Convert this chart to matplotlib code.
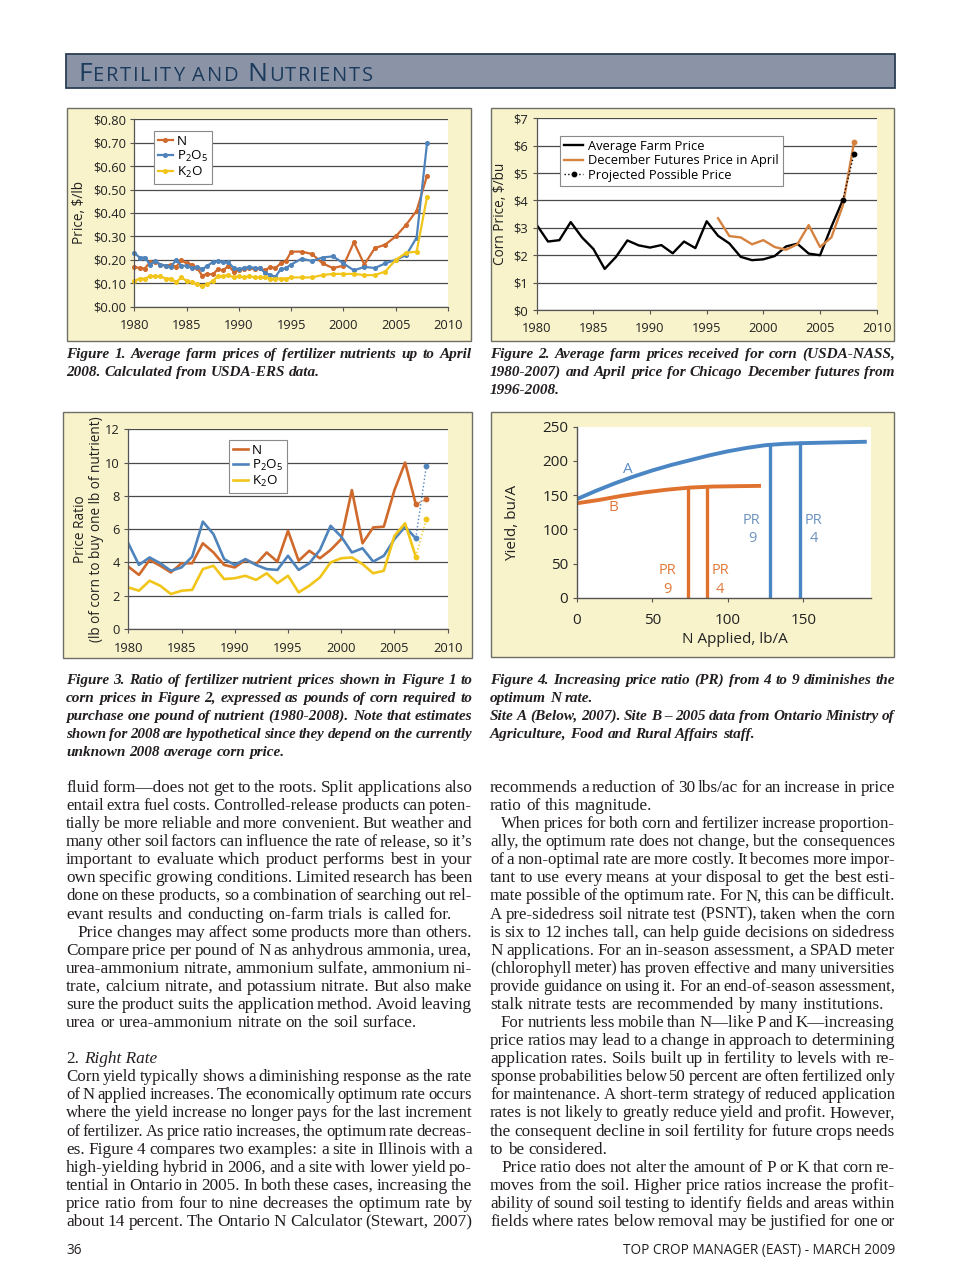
import numpy as np
import matplotlib
matplotlib.use('Agg')
import matplotlib.pyplot as plt
from matplotlib.font_manager import FontProperties
from matplotlib.patches import Rectangle
from matplotlib.lines import Line2D

plt.rcParams['font.family'] = ['Open Sans', 'DejaVu Sans']
plt.rcParams['mathtext.fontset'] = 'custom'
plt.rcParams['mathtext.rm'] = 'Open Sans'
plt.rcParams['mathtext.it'] = 'Open Sans:italic'
plt.rcParams['mathtext.bf'] = 'Open Sans:bold'

# ---------------- data ----------------
fert_years = [1980, 1980.5, 1981, 1981.5, 1982, 1982.5, 1983, 1983.5, 1984, 1984.5,
              1985, 1985.5, 1986, 1986.5, 1987, 1987.5, 1988, 1988.5, 1989, 1989.5,
              1990, 1990.5, 1991, 1991.5, 1992, 1992.5, 1993, 1993.5, 1994, 1994.5,
              1995, 1996, 1997, 1998, 1999, 2000, 2001, 2002, 2003, 2004, 2005, 2006, 2007, 2008]
price_N = [.17, .165, .163, .19, .19, .18, .175, .18, .17, .198,
           .185, .18, .165, .133, .14, .138, .16, .155, .175, .15,
           .157, .16, .165, .16, .165, .155, .17, .165, .185, .195,
           .235, .235, .225, .185, .165, .175, .275, .18, .25, .265, .30, .35, .41, .56]
price_P = [.23, .21, .21, .18, .195, .18, .175, .17, .20, .175,
           .175, .165, .17, .16, .175, .19, .195, .19, .19, .165,
           .16, .165, .17, .165, .165, .145, .135, .128, .16, .165,
           .18, .205, .195, .21, .215, .185, .155, .17, .165, .185, .20, .22, .295, .70]
price_K = [.11, .12, .12, .13, .13, .13, .12, .12, .105, .125,
           .11, .105, .095, .09, .095, .11, .13, .13, .135, .125,
           .13, .125, .13, .125, .125, .125, .12, .12, .12, .12,
           .125, .125, .125, .135, .14, .14, .14, .135, .135, .15, .20, .23, .235, .47]

corn_years = list(range(1980, 2008))
farm_price = [3.11, 2.50, 2.55, 3.21, 2.65, 2.23, 1.50, 1.94, 2.54, 2.36, 2.28, 2.37, 2.07, 2.50,
              2.26, 3.24, 2.71, 2.43, 1.94, 1.82, 1.85, 1.97, 2.32, 2.42, 2.06, 2.00, 3.04, 4.00]
futures_years = list(range(1996, 2009))
futures_price = [3.35, 2.70, 2.65, 2.40, 2.55, 2.30, 2.20, 2.40, 3.10, 2.30, 2.65, 3.80, 6.12]
projected_years = [2007, 2008]
projected_price = [4.00, 5.70]

ratio_years = list(range(1980, 2008))
ratio_N = [3.75, 3.25, 4.15, 3.8, 3.4, 3.95, 3.95, 5.15, 4.6, 3.85, 3.7, 4.15, 3.9, 4.6,
           4.05, 5.9, 4.1, 4.7, 4.25, 4.75, 5.4, 8.35, 5.15, 6.1, 6.15, 8.35, 10.0, 7.5]
ratio_P = [5.15, 3.85, 4.3, 3.95, 3.5, 3.7, 4.35, 6.45, 5.7, 4.2, 3.85, 4.2, 3.85, 3.6,
           3.55, 4.4, 3.55, 3.95, 4.75, 6.2, 5.55, 4.6, 4.85, 4.05, 4.4, 5.4, 6.15, 5.45]
ratio_K = [2.5, 2.3, 2.9, 2.6, 2.1, 2.3, 2.35, 3.6, 3.8, 3.0, 3.05, 3.2, 2.95, 3.35,
           2.75, 3.2, 2.2, 2.6, 3.1, 4.0, 4.25, 4.3, 3.9, 3.35, 3.5, 5.6, 6.35, 4.35]
ratio_year_2008 = 2008
ratio_2008 = {'N': 7.8, 'P': 9.8, 'K': 6.6}

siteA_N = [0, 12.5, 25, 37.5, 50, 62.5, 75, 87.5, 100, 112.5, 125, 137.5, 150, 170, 192]
siteA_yield = [144, 156, 167, 177, 186, 194, 201, 208, 214, 219, 223, 225, 226, 227, 228]
siteB_N = [0, 15, 30, 45, 60, 75, 90, 105, 122]
siteB_yield = [138, 143, 149, 154, 158, 161, 162.5, 163, 163.5]
siteA_opt = {'9': 128, '4': 148}
siteB_opt = {'9': 74, '4': 86}

# ---------------- page ----------------
W, H, DPI = 960, 1284, 100
fig = plt.figure(figsize=(W / DPI, H / DPI), dpi=DPI)
fig.patch.set_facecolor('white')
page = fig.add_axes([0, 0, 1, 1])
page.set_xlim(0, W)
page.set_ylim(H, 0)
page.axis('off')
page.set_zorder(0)
renderer = fig.canvas.get_renderer()

ORANGE = '#cf692c'
BLUE = '#4f83bb'
YELLOW = '#f1c519'
CREAM = '#f8f3cb'
EDGE = '#6f6f66'
TEXT = '#231f20'


def ax_at(x0, y0, x1, y1):
    ax = fig.add_axes([x0 / W, 1 - y1 / H, (x1 - x0) / W, (y1 - y0) / H])
    ax.set_zorder(2)
    return ax


def tw(s, fp):
    w, h, d = renderer.get_text_width_height_descent(s, fp, ismath=False)
    return w


def put_line(x0, x1, yb, s, family='Liberation Serif', size=11.0, style='normal',
             weight='normal', justify=True, indent=0, color=TEXT):
    words = s.split()
    sz = size
    while True:
        fp = FontProperties(family=family, size=sz, style=style, weight=weight)
        ws = [tw(w, fp) for w in words]
        sp = tw('n n', fp) - tw('nn', fp)
        natural = sum(ws) + sp * 0.6 * (len(words) - 1)
        if natural <= (x1 - x0 - indent) or sz <= size - 2.0:
            break
        sz -= 0.2
    if justify and len(words) > 1:
        gap = (x1 - x0 - indent - sum(ws)) / (len(words) - 1)
    else:
        gap = sp
    x = x0 + indent
    for w, wd in zip(words, ws):
        page.text(x, yb, w, fontproperties=fp, ha='left', va='baseline', color=color)
        x += wd + gap


def panel(x0, y0, x1, y1):
    page.add_patch(Rectangle((x0, y0), x1 - x0, y1 - y0, facecolor=CREAM,
                             edgecolor=EDGE, lw=1.0, zorder=1))


# header bar
page.add_patch(Rectangle((66, 54), 829, 34, facecolor='#8a94a6', edgecolor='#2b3e54', lw=1.3, zorder=1))
title_parts = [('F', 19), ('ERTILITY', 14.5), (' ', 14.5), ('AND', 14.5), (' ', 14.5),
               ('N', 19), ('UTRIENTS', 14.5)]
chars = []
for s, sz in title_parts:
    for c in s:
        chars.append((c, sz))
fps = [FontProperties(family='Open Sans', size=sz, weight='medium') for c, sz in chars]
widths = [tw(c, fp) if c != ' ' else tw('n n', fp) - tw('nn', fp) for (c, sz), fp in zip(chars, fps)]
track = (373 - 78 - sum(widths)) / (len(chars) - 1)
x = 78
for (c, sz), fp, wd in zip(chars, fps, widths):
    if c != ' ':
        page.text(x, 81, c, fontproperties=fp, ha='left', va='baseline', color='#1c3a5c', zorder=3)
    x += wd + track

# panels
panel(67, 108, 471, 341)
panel(491, 108, 894, 341)
panel(63, 412, 472, 658)
panel(491, 412, 894, 657)

TICKFS = 9.3


def line_axes(ax, ymax, yticks, ylabels):
    ax.set_facecolor('white')
    ax.set_xlim(1980, 2010)
    ax.set_ylim(0, ymax)
    ax.set_xticks([1980, 1985, 1990, 1995, 2000, 2005, 2010])
    ax.set_yticks(yticks)
    ax.set_yticklabels(ylabels)
    for s in ['top', 'right']:
        ax.spines[s].set_visible(False)
    for s in ['left', 'bottom']:
        ax.spines[s].set_color('#555555')
        ax.spines[s].set_linewidth(0.9)
    ax.grid(axis='y', color='#4a4a4a', lw=0.9)
    ax.set_axisbelow(True)
    ax.tick_params(direction='out', length=3, width=0.8, colors='#555555',
                   labelcolor='#222222', labelsize=TICKFS)
    ax.tick_params(axis='y', pad=3)
    ax.tick_params(axis='x', pad=6)


# ---- Figure 1 ----
ax1 = ax_at(134.3, 119.3, 448.0, 306.7)
yt1 = [0.0, 0.1, 0.2, 0.3, 0.4, 0.5, 0.6, 0.7, 0.8]
line_axes(ax1, 0.8, yt1, ['\\$%.2f' % v for v in yt1])
ax1.plot(fert_years, price_N, color=ORANGE, lw=1.6, marker='o', ms=2.6, label='N', clip_on=False)
ax1.plot(fert_years, price_P, color=BLUE, lw=1.6, marker='o', ms=2.6,
         label=r'P$_\mathregular{2}$O$_\mathregular{5}$', clip_on=False)
ax1.plot(fert_years, price_K, color=YELLOW, lw=1.6, marker='o', ms=2.6,
         label=r'K$_\mathregular{2}$O', clip_on=False)
ax1.set_ylabel('Price, $/lb', fontsize=9.8, color='#222222')
ax1.yaxis.set_label_coords(-0.152, 0.5)
lg1 = ax1.legend(loc='upper left', bbox_to_anchor=(0.063, 0.9376), borderaxespad=0,
                 fontsize=9.6, frameon=True, fancybox=False, framealpha=1, edgecolor='#8a8a8a',
                 handlelength=1.1, handletextpad=0.3, labelspacing=0.05, borderpad=0.3)
lg1.get_frame().set_linewidth(0.8)

# ---- Figure 2 ----
ax2 = ax_at(536.7, 118.3, 876.7, 310.0)
yt2 = list(range(0, 8))
line_axes(ax2, 7, yt2, ['\\$%d' % v for v in yt2])
ax2.plot(corn_years, farm_price, color='black', lw=1.7, label='Average Farm Price')
ax2.plot(futures_years, futures_price, color='#d6823f', lw=1.7, label='December Futures Price in April')
ax2.plot(futures_years[-1:], futures_price[-1:], color='#d6823f', lw=0, marker='o', ms=3.2)
ax2.plot(projected_years, projected_price, color='black', lw=1.0, ls=':', marker='o', ms=3.2,
         label='Projected Possible Price')
ax2.set_ylabel('Corn Price, $/bu', fontsize=9.8, color='#222222')
ax2.yaxis.set_label_coords(-0.084, 0.5)
lg2 = ax2.legend(loc='upper left', bbox_to_anchor=(0.0685, 0.9077), borderaxespad=0,
                 fontsize=9.3, frameon=True, fancybox=False, framealpha=1, edgecolor='#8a8a8a',
                 handlelength=1.5, handletextpad=0.4, labelspacing=0.12, borderpad=0.3)
lg2.get_frame().set_linewidth(0.8)

# ---- Figure 3 ----
ax3 = ax_at(128.3, 429.3, 447.7, 629.0)
yt3 = [0, 2, 4, 6, 8, 10, 12]
line_axes(ax3, 12, yt3, [str(v) for v in yt3])
for vals, key, col, lab in [(ratio_N, 'N', ORANGE, 'N'),
                            (ratio_P, 'P', BLUE, r'P$_\mathregular{2}$O$_\mathregular{5}$'),
                            (ratio_K, 'K', YELLOW, r'K$_\mathregular{2}$O')]:
    ax3.plot(ratio_years, vals, color=col, lw=1.9, label=lab)
    ax3.plot([ratio_years[-1], ratio_year_2008], [vals[-1], ratio_2008[key]], color=col,
             lw=1.0, ls=':', marker='o', ms=3.2)
ax3.set_ylabel('Price Ratio\n(lb of corn to buy one lb of nutrient)', fontsize=9.8,
               color='#222222', linespacing=1.1)
ax3.yaxis.set_label_coords(-0.076, 0.5)
lg3 = ax3.legend(loc='upper left', bbox_to_anchor=(0.315, 0.946), borderaxespad=0,
                 fontsize=9.6, frameon=True, fancybox=False, framealpha=1, edgecolor='#8a8a8a',
                 handlelength=1.1, handletextpad=0.35, labelspacing=0.05, borderpad=0.3)
lg3.get_frame().set_linewidth(0.8)

# ---- Figure 4 ----
A_BLUE = '#4a86c4'
B_ORANGE = '#e0722f'
ax4 = ax_at(576.7, 426.7, 871.3, 597.7)
ax4.set_facecolor('white')
ax4.set_xlim(0, 195)
ax4.set_ylim(0, 250)
ax4.set_xticks([0, 50, 100, 150])
ax4.set_yticks([0, 50, 100, 150, 200, 250])
for s in ['top', 'right']:
    ax4.spines[s].set_visible(False)
for s in ['left', 'bottom']:
    ax4.spines[s].set_color('#555555')
    ax4.spines[s].set_linewidth(1.0)
ax4.tick_params(direction='out', length=3, width=0.8, colors='#555555',
                labelcolor='#222222', labelsize=11)
ax4.tick_params(axis='x', pad=8)
ax4.tick_params(axis='y', pad=3)
ax4.plot(siteA_N, siteA_yield, color=A_BLUE, lw=2.8, solid_capstyle='butt')
ax4.plot(siteB_N, siteB_yield, color=B_ORANGE, lw=2.8, solid_capstyle='butt')
for k, xv in siteA_opt.items():
    ax4.plot([xv, xv], [0, np.interp(xv, siteA_N, siteA_yield)], color=A_BLUE, lw=2.4)
for k, xv in siteB_opt.items():
    ax4.plot([xv, xv], [0, np.interp(xv, siteB_N, siteB_yield)], color=B_ORANGE, lw=2.4)
ax4.text(34, 188, 'A', color='#5b8cc4', fontsize=11, ha='center', va='center')
ax4.text(24, 132, 'B', color='#e07a3a', fontsize=11, ha='center', va='center')
ax4.text(60, 26, 'PR\n9', color='#e07a3a', fontsize=10.5, ha='center', va='center', linespacing=1.3)
ax4.text(95, 26, 'PR\n4', color='#e07a3a', fontsize=10.5, ha='center', va='center', linespacing=1.3)
ax4.text(116, 100, 'PR\n9', color='#6f93bf', fontsize=10.5, ha='center', va='center', linespacing=1.3)
ax4.text(157, 100, 'PR\n4', color='#6f93bf', fontsize=10.5, ha='center', va='center', linespacing=1.3)
ax4.set_ylabel('Yield, bu/A', fontsize=11, color='#222222')
ax4.yaxis.set_label_coords(-0.192, 0.436)
ax4.set_xlabel('N Applied, lb/A', fontsize=11, color='#222222')
ax4.xaxis.set_label_coords(0.537, -0.2)

# ---------------- captions ----------------
CAP = dict(style='italic', weight='bold', size=11.0)
LX0, LX1, RX0, RX1 = 66, 472, 490, 895
put_line(LX0, LX1, 358, 'Figure 1. Average farm prices of fertilizer nutrients up to April', **CAP)
put_line(LX0, LX1, 376, '2008. Calculated from USDA-ERS data.', justify=False, **CAP)
put_line(RX0, RX1, 358, 'Figure 2. Average farm prices received for corn (USDA-NASS,', **CAP)
put_line(RX0, RX1, 376, '1980-2007) and April price for Chicago December futures from', **CAP)
put_line(RX0, RX1, 394, '1996-2008.', justify=False, **CAP)

cap3 = ['Figure 3. Ratio of fertilizer nutrient prices shown in Figure 1 to',
        'corn prices in Figure 2, expressed as pounds of corn required to',
        'purchase one pound of nutrient (1980-2008). Note that estimates',
        'shown for 2008 are hypothetical since they depend on the currently',
        'unknown 2008 average corn price.']
for i, s in enumerate(cap3):
    put_line(LX0, LX1, 684 + 18 * i, s, justify=(i < len(cap3) - 1), **CAP)
cap4 = [('Figure 4. Increasing price ratio (PR) from 4 to 9 diminishes the', True),
        ('optimum N rate.', False),
        ('Site A (Below, 2007). Site B \u2013 2005 data from Ontario Ministry of', True),
        ('Agriculture,  Food and Rural Affairs staff.', False)]
for i, (s, j) in enumerate(cap4):
    put_line(RX0, RX1, 684 + 18 * i, s, justify=j, **CAP)

# ---------------- body text ----------------
IND = 11
left_lines = [
    ('fluid form\u2014does not get to the roots. Split applications also', True, 0),
    ('entail extra fuel costs. Controlled-release products can poten-', True, 0),
    ('tially be more reliable and more convenient. But weather and', True, 0),
    ('many other soil factors can influence the rate of release, so it\u2019s', True, 0),
    ('important to evaluate which product performs best in your', True, 0),
    ('own specific growing conditions. Limited research has been', True, 0),
    ('done on these products, so a combination of searching out rel-', True, 0),
    ('evant results and conducting on-farm trials is called for.', False, 0),
    ('Price changes may affect some products more than others.', True, IND),
    ('Compare price per pound of N as anhydrous ammonia, urea,', True, 0),
    ('urea-ammonium nitrate, ammonium sulfate, ammonium ni-', True, 0),
    ('trate, calcium nitrate, and potassium nitrate. But also make', True, 0),
    ('sure the product suits the application method. Avoid leaving', True, 0),
    ('urea or urea-ammonium nitrate on the soil surface.', False, 0),
    (None, False, 0),
    ('HEADING', False, 0),
    ('Corn yield typically shows a diminishing response as the rate', True, 0),
    ('of N applied increases. The economically optimum rate occurs', True, 0),
    ('where the yield increase no longer pays for the last increment', True, 0),
    ('of fertilizer. As price ratio increases, the optimum rate decreas-', True, 0),
    ('es. Figure 4 compares two examples: a site in Illinois with a', True, 0),
    ('high-yielding hybrid in 2006, and a site with lower yield po-', True, 0),
    ('tential in Ontario in 2005. In both these cases, increasing the', True, 0),
    ('price ratio from four to nine decreases the optimum rate by', True, 0),
    ('about 14 percent. The Ontario N Calculator (Stewart, 2007)', True, 0),
]
right_lines = [
    ('recommends a reduction of 30 lbs/ac for an increase in price', True, 0),
    ('ratio of this magnitude.', False, 0),
    ('When prices for both corn and fertilizer increase proportion-', True, IND),
    ('ally, the optimum rate does not change, but the consequences', True, 0),
    ('of a non-optimal rate are more costly. It becomes more impor-', True, 0),
    ('tant to use every means at your disposal to get the best esti-', True, 0),
    ('mate possible of the optimum rate. For N, this can be difficult.', True, 0),
    ('A pre-sidedress soil nitrate test (PSNT), taken when the corn', True, 0),
    ('is six to 12 inches tall, can help guide decisions on sidedress', True, 0),
    ('N applications. For an in-season assessment, a SPAD meter', True, 0),
    ('(chlorophyll meter) has proven effective and many universities', True, 0),
    ('provide guidance on using it. For an end-of-season assessment,', True, 0),
    ('stalk nitrate tests are recommended by many institutions.', False, 0),
    ('For nutrients less mobile than N\u2014like P and K\u2014increasing', True, IND),
    ('price ratios may lead to a change in approach to determining', True, 0),
    ('application rates. Soils built up in fertility to levels with re-', True, 0),
    ('sponse probabilities below 50 percent are often fertilized only', True, 0),
    ('for maintenance. A short-term strategy of reduced application', True, 0),
    ('rates is not likely to greatly reduce yield and profit. However,', True, 0),
    ('the consequent decline in soil fertility for future crops needs', True, 0),
    ('to be considered.', False, 0),
    ('Price ratio does not alter the amount of P or K that corn re-', True, IND),
    ('moves from the soil. Higher price ratios increase the profit-', True, 0),
    ('ability of sound soil testing to identify fields and areas within', True, 0),
    ('fields where rates below removal may be justified for one or', True, 0),
]
BODY = 12.4
LINE_H = 18.08
Y0 = 792
for i, (s, j, ind) in enumerate(left_lines):
    yb = Y0 + LINE_H * i
    if s is None:
        continue
    if s == 'HEADING':
        fp_r = FontProperties(family='Liberation Serif', size=BODY)
        fp_i = FontProperties(family='Liberation Serif', size=BODY, style='italic')
        page.text(LX0, yb, '2.', fontproperties=fp_r, ha='left', va='baseline', color=TEXT)
        page.text(LX0 + tw('2. ', fp_r) + 1, yb, 'Right Rate', fontproperties=fp_i,
                  ha='left', va='baseline', color=TEXT)
        continue
    put_line(LX0, LX1, yb, s, size=BODY, justify=j, indent=ind)
for i, (s, j, ind) in enumerate(right_lines):
    put_line(RX0, RX1, Y0 + LINE_H * i, s, size=BODY, justify=j, indent=ind)

# footer
page.text(66, 1254, '36', fontsize=9.8, family='Open Sans', ha='left', va='baseline', color=TEXT)
page.text(895, 1254, 'TOP CROP MANAGER (EAST) - MARCH 2009', fontsize=9.8, family='Open Sans',
          ha='right', va='baseline', color=TEXT)

fig.savefig('out.png', dpi=DPI, facecolor='white')
